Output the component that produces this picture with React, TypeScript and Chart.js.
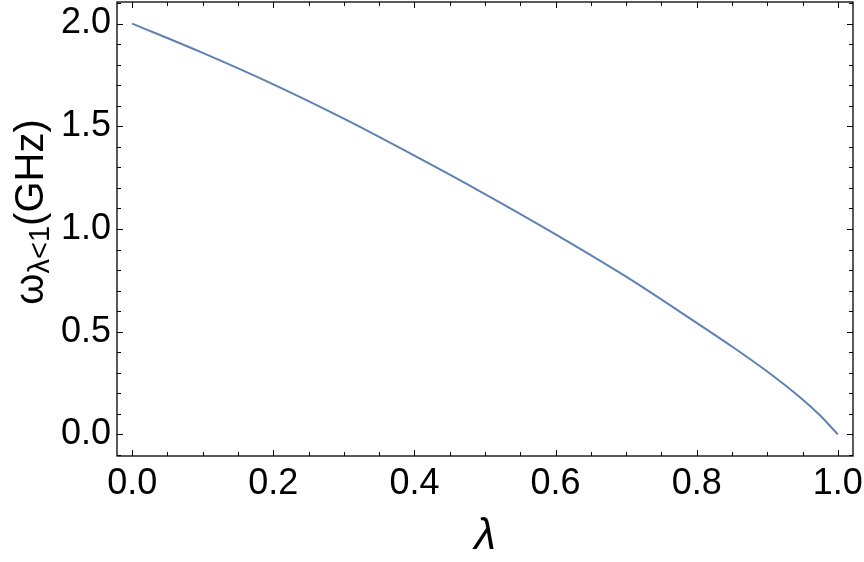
import React, { useEffect, useRef } from "react";
import { Chart, registerables } from "chart.js";

Chart.register(...registerables);

// ---- data ----
const lambdaValues = [0, 0.1, 0.2, 0.3, 0.4, 0.5, 0.6, 0.7, 0.8, 0.85, 0.9, 0.95, 0.975, 1.0];
const omegaValues = [2.0, 1.857, 1.704, 1.537, 1.357, 1.17, 0.974, 0.768, 0.543, 0.428, 0.306, 0.17, 0.092, 0.0];

const xMajorTicks = [0, 0.2, 0.4, 0.6, 0.8, 1.0];
const xMinorTicks = [0.05, 0.1, 0.15, 0.25, 0.3, 0.35, 0.45, 0.5, 0.55, 0.65, 0.7, 0.75, 0.85, 0.9, 0.95];
const yMajorTicks = [0, 0.5, 1.0, 1.5, 2.0];
const yMinorTicks = [-0.1, 0.1, 0.2, 0.3, 0.4, 0.6, 0.7, 0.8, 0.9, 1.1, 1.2, 1.3, 1.4, 1.6, 1.7, 1.8, 1.9, 2.1];

const xAxisTitle = "λ";
const yAxisMain = "ω";
const yAxisSub = "λ<1";
const yAxisUnit = "(GHz)";

const X_MIN = -0.0215;
const X_MAX = 1.0215;
const Y_MIN = -0.105;
const Y_MAX = 2.105;

const LINE_COLOR = "#5E81B5";
const TICK_FONT = "Liberation Sans, Arial, sans-serif";

const framePlugin = {
  id: "mmaFrame",
  afterDraw(chart: any) {
    const { ctx, chartArea: a, scales } = chart;
    const x = scales.x;
    const y = scales.y;
    ctx.save();
    ctx.strokeStyle = "#000";
    ctx.lineWidth = 1.3;
    ctx.strokeRect(a.left, a.top, a.right - a.left, a.bottom - a.top);
    ctx.lineWidth = 1;
    const drawX = (vals: number[], len: number) => {
      vals.forEach((v) => {
        const px = Math.round(x.getPixelForValue(v)) + 0.5;
        ctx.beginPath();
        ctx.moveTo(px, a.bottom);
        ctx.lineTo(px, a.bottom - len);
        ctx.moveTo(px, a.top);
        ctx.lineTo(px, a.top + len);
        ctx.stroke();
      });
    };
    const drawY = (vals: number[], len: number) => {
      vals.forEach((v) => {
        const py = Math.round(y.getPixelForValue(v)) + 0.5;
        ctx.beginPath();
        ctx.moveTo(a.left, py);
        ctx.lineTo(a.left + len, py);
        ctx.moveTo(a.right, py);
        ctx.lineTo(a.right - len, py);
        ctx.stroke();
      });
    };
    drawX(xMajorTicks, 6);
    drawX(xMinorTicks, 4);
    drawY(yMajorTicks, 6);
    drawY(yMinorTicks, 4);

    // rotated y-axis label with subscript
    const mainFont = `40px ${TICK_FONT}`;
    const subFont = `29px ${TICK_FONT}`;
    ctx.font = mainFont;
    const w1 = ctx.measureText(yAxisMain).width;
    const w3 = ctx.measureText(yAxisUnit).width;
    ctx.font = subFont;
    const w2 = ctx.measureText(yAxisSub).width;
    const total = w1 + w2 + w3;
    const cy = (a.top + a.bottom) / 2 - 17;
    ctx.translate(43, cy);
    ctx.rotate(-Math.PI / 2);
    ctx.fillStyle = "#000";
    ctx.textAlign = "left";
    ctx.textBaseline = "alphabetic";
    let sx = -total / 2;
    ctx.font = mainFont;
    ctx.fillText(yAxisMain, sx, 0);
    sx += w1;
    ctx.font = subFont;
    ctx.fillText(yAxisSub, sx, 6);
    sx += w2;
    ctx.font = mainFont;
    ctx.fillText(yAxisUnit, sx, 0);
    ctx.restore();
  },
};

export default function App() {
  const canvasRef = useRef<HTMLCanvasElement | null>(null);

  useEffect(() => {
    if (!canvasRef.current) return;
    const points = lambdaValues.map((l, i) => ({ x: l, y: omegaValues[i] }));
    const chart = new Chart(canvasRef.current, {
      type: "line",
      data: {
        datasets: [
          {
            data: points,
            borderColor: LINE_COLOR,
            borderWidth: 2,
            pointRadius: 0,
            fill: false,
            cubicInterpolationMode: "monotone",
          },
        ],
      },
      options: {
        responsive: false,
        animation: false,
        devicePixelRatio: 1,
        layout: { padding: { top: 2, right: 11, left: 0, bottom: 0 } },
        plugins: { legend: { display: false }, tooltip: { enabled: false } },
        scales: {
          x: {
            type: "linear",
            min: X_MIN,
            max: X_MAX,
            grid: { display: false, drawTicks: false },
            border: { display: false },
            afterBuildTicks: (scale: any) => {
              scale.ticks = xMajorTicks.map((v) => ({ value: v }));
            },
            afterFit: (scale: any) => {
              scale.height = 106;
              scale.paddingLeft = 0;
              scale.paddingRight = 0;
            },
            ticks: {
              autoSkip: false,
              maxRotation: 0,
              padding: 6,
              color: "#000",
              font: { family: TICK_FONT, size: 36 },
              callback: (v: any) => Number(v).toFixed(1),
            },
            title: {
              display: true,
              text: xAxisTitle,
              color: "#000",
              font: { family: TICK_FONT, size: 44, style: "italic", lineHeight: 1 },
              padding: { top: 0, bottom: 3 },
            },
          },
          y: {
            type: "linear",
            min: Y_MIN,
            max: Y_MAX,
            grid: { display: false, drawTicks: false },
            border: { display: false },
            afterBuildTicks: (scale: any) => {
              scale.ticks = yMajorTicks.map((v) => ({ value: v }));
            },
            afterFit: (scale: any) => {
              scale.width = 117;
              scale.paddingTop = 0;
              scale.paddingBottom = 0;
            },
            ticks: {
              autoSkip: false,
              padding: 6,
              color: "#000",
              font: { family: TICK_FONT, size: 36 },
              callback: (v: any) => Number(v).toFixed(1),
            },
          },
        },
      },
      plugins: [framePlugin],
    } as any);
    return () => chart.destroy();
  }, []);

  return (
    <div style={{ position: "absolute", left: 0, top: 0, width: 864, height: 562, background: "#fff" }}>
      <canvas ref={canvasRef} width={864} height={562} />
    </div>
  );
}
